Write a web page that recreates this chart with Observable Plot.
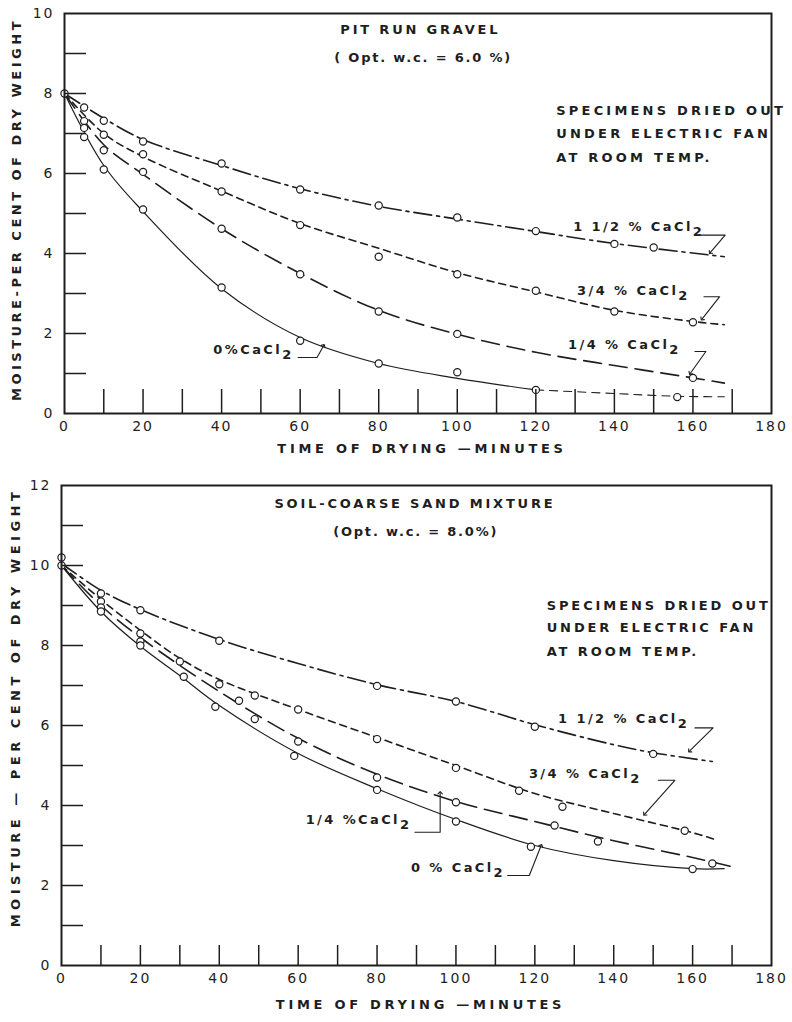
<!DOCTYPE html>
<html><head><meta charset="utf-8">
<script src="https://cdn.jsdelivr.net/npm/d3@7"></script>
<script src="https://cdn.jsdelivr.net/npm/@observablehq/plot@0.6"></script>
<style>
body{margin:0;background:#fff;}
#wrap{width:792px;}
#wrap svg{display:block;}
</style></head><body><div id="wrap"></div>
<script>
// ---------------- DATA ----------------
const xLabelTicks = [0, 20, 40, 60, 80, 100, 120, 140, 160, 180];
const xMinorTicks = [10, 20, 30, 40, 50, 60, 70, 80, 90, 100, 110, 120, 130, 140, 150, 160, 170];
const gravelYLabels = [0, 2, 4, 6, 8, 10];
const gravelYTicks = [1, 2, 3, 4, 5, 6, 7, 8, 9];
const sandYLabels = [0, 2, 4, 6, 8, 10, 12];
const sandYTicks = [1, 2, 3, 4, 5, 6, 7, 8, 9, 10, 11];
const seriesKeys = ["1 1/2 %", "3/4 %", "1/4 %", "0 %"];

// Pit run gravel: fitted curves [minutes, moisture %] and observed points
const gravelLine15 = [[0,8],[10,7.38],[20,6.85],[40,6.2],[60,5.62],[80,5.18],[100,4.86],[120,4.55],[140,4.25],[168,3.92]];
const gravelPts15  = [[0,8],[5,7.65],[10,7.32],[20,6.8],[40,6.25],[60,5.6],[80,5.2],[100,4.9],[120,4.56],[140,4.24],[150,4.15]];
const gravelLine34 = [[0,8],[10,7.0],[20,6.42],[40,5.56],[60,4.75],[80,4.13],[100,3.52],[120,3.04],[140,2.58],[160,2.3],[168,2.22]];
const gravelPts34  = [[5,7.31],[10,6.97],[20,6.48],[40,5.55],[60,4.71],[80,3.92],[100,3.48],[120,3.07],[140,2.55],[160,2.28]];
const gravelLine14 = [[0,8],[10,6.72],[20,5.98],[40,4.62],[60,3.5],[80,2.58],[100,1.98],[120,1.53],[140,1.2],[160,0.89],[168,0.76]];
const gravelPts14  = [[5,7.14],[10,6.58],[20,6.04],[40,4.62],[60,3.48],[80,2.55],[100,1.99],[160,0.89]];
const gravelLine0  = [[0,8],[10,6.2],[20,5.05],[40,3.12],[60,1.9],[80,1.25],[100,0.88],[120,0.59]];
const gravelLine0b = [[120,0.59],[140,0.5],[156,0.43],[168,0.42]];
const gravelPts0   = [[5,6.91],[10,6.1],[20,5.1],[40,3.15],[60,1.82],[80,1.25],[100,1.03],[120,0.59],[156,0.41]];

// Soil-coarse sand mixture
const sandLine15 = [[0,10.05],[10,9.38],[20,8.9],[40,8.15],[60,7.55],[80,7.02],[100,6.6],[120,6.02],[140,5.52],[150,5.32],[165,5.1]];
const sandPts15  = [[0,10.2],[10,9.3],[20,8.88],[40,8.12],[80,6.99],[100,6.6],[120,5.97],[150,5.29]];
const sandLine34 = [[0,10.0],[10,9.15],[20,8.38],[30,7.68],[40,7.15],[60,6.4],[80,5.7],[100,5.0],[120,4.3],[140,3.8],[160,3.32],[166,3.14]];
const sandPts34  = [[10,9.1],[20,8.3],[30,7.6],[40,7.03],[49,6.75],[60,6.4],[80,5.66],[100,4.94],[116,4.37],[127,3.97],[158,3.37]];
const sandLine14 = [[0,10.0],[10,9.0],[20,8.2],[40,6.85],[60,5.68],[80,4.78],[100,4.1],[120,3.6],[140,3.12],[160,2.7],[170,2.47]];
const sandPts14  = [[10,8.95],[20,8.1],[45,6.62],[49,6.16],[60,5.6],[80,4.7],[100,4.08],[125,3.5],[136,3.1],[165,2.55]];
const sandLine0  = [[0,10.0],[10,8.85],[20,7.98],[30,7.25],[40,6.5],[60,5.3],[80,4.42],[100,3.65],[120,3.0],[140,2.62],[160,2.42],[168,2.42]];
const sandPts0   = [[0,10.0],[10,8.85],[20,8.0],[31,7.22],[39,6.47],[59,5.24],[80,4.39],[100,3.6],[119,2.97],[160,2.41]];

// Texts
const xTitle = "TIME OF DRYING —MINUTES";
const gravelYTitle = "MOISTURE-PER CENT OF DRY WEIGHT";
const sandYTitle = "MOISTURE — PER CENT OF DRY WEIGHT";
const gravelTitles = [{t:90.6, v:9.58, s:"PIT RUN GRAVEL"}, {t:91.3, v:8.88, s:"( Opt. w.c. = 6.0 %)"}];
const sandTitles = [{t:89.6, v:11.55, s:"SOIL-COARSE SAND MIXTURE"}, {t:89.8, v:10.83, s:"(Opt. w.c. = 8.0%)"}];
const noteLines = ["SPECIMENS DRIED OUT", "UNDER ELECTRIC FAN", "AT ROOM TEMP."];
const gravelNotePos = [{t:125.2, v:7.56}, {t:125.2, v:6.98}, {t:125.2, v:6.38}];
const sandNotePos = [{t:123.0, v:9.0}, {t:123.0, v:8.43}, {t:123.0, v:7.83}];
const gravelSeriesLabels = [
  {t:129.5, v:4.66, s:"1 1/2 % CaCl₂"}, {t:130.5, v:3.06, s:"3/4 % CaCl₂"},
  {t:128.2, v:1.72, s:"1/4 % CaCl₂"}, {t:37.9, v:1.6, s:"0%CaCl₂"}];
const sandSeriesLabels = [
  {t:125.9, v:6.17, s:"1 1/2 % CaCl₂"}, {t:118.5, v:4.8, s:"3/4 % CaCl₂"},
  {t:61.9, v:3.65, s:"1/4 %CaCl₂"}, {t:88.6, v:2.45, s:"0 % CaCl₂"}];
const gravelLeaders = [
  [[161.5,4.46],[168.2,4.46],[164.4,4.02]],
  [[162.8,2.92],[166.8,2.92],[162.3,2.36]],
  [[160.5,1.55],[163.3,1.55],[159.3,1.0]],
  [[59.5,1.4],[64.3,1.4],[66,1.7]]];
const sandLeaders = [
  [[160.6,5.94],[165.2,5.94],[159.2,5.36]],
  [[151.3,4.63],[155.5,4.63],[147.8,3.78]],
  [[89.6,3.33],[96,3.33],[96,4.32]],
  [[113.1,2.25],[118.6,2.25],[121.6,3.0]]];

// ---------------- STYLE ----------------
const ink = "#1e1e1e";
const font = "DejaVu Sans, Verdana, sans-serif";
const dash = {"1 1/2 %": "18,5,3,5", "3/4 %": "7,5", "1/4 %": "18,8", "0 %": null};
const lw = {"1 1/2 %": 1.6, "3/4 %": 1.6, "1/4 %": 1.6, "0 %": 1.2};

const X = d => d[0], Y = d => d[1];

function spaceTexts(svg, strings, ls) {
  d3.select(svg).selectAll("text")
    .filter(function () { return strings.includes(this.textContent); })
    .attr("letter-spacing", ls);
}

function chart(cfg) {
  const W = 792;
  const innerW = W - cfg.ml - cfg.mr, innerH = cfg.height - cfg.mt - cfg.mb;
  const marks = [];
  cfg.lines.forEach(([key, data]) => {
    marks.push(Plot.line(data, {x: X, y: Y, curve: "catmull-rom", stroke: ink,
      strokeWidth: lw[key], strokeDasharray: dash[key] || undefined}));
  });
  if (cfg.extra) marks.push(Plot.line(cfg.extra, {x: X, y: Y, curve: "catmull-rom", stroke: ink, strokeWidth: 1.1, strokeDasharray: "8,6"}));
  cfg.points.forEach(pts => marks.push(Plot.dot(pts, {x: X, y: Y, r: 3.6, stroke: ink, fill: "white", strokeWidth: 1.2})));
  cfg.leaders.forEach(L => marks.push(Plot.line(L, {x: X, y: Y, stroke: ink, strokeWidth: 1.1, markerEnd: "arrow"})));
  marks.push(
    Plot.tickY(cfg.yTicks, {y: d => d, stroke: ink, strokeWidth: 1.5, insetRight: innerW - 22}),
    Plot.tickX(xMinorTicks, {x: d => d, stroke: ink, strokeWidth: 1.5, insetTop: innerH - cfg.xTickLen}),
    Plot.frame({stroke: ink, strokeWidth: 2}),
    Plot.axisX({ticks: xLabelTicks, tickSize: 0, tickPadding: 8, fontSize: 14, label: null, fill: ink}),
    Plot.axisY({ticks: cfg.yLabels, tickSize: 0, tickPadding: 10, fontSize: 14, label: null, fill: ink}),
    Plot.text([xTitle], {frameAnchor: "bottom", textAnchor: "middle", text: d => d, dy: cfg.xTitleDy, dx: 4, fontSize: 13, fontWeight: "bold", fill: ink}),
    Plot.text([cfg.yTitle], {frameAnchor: "left", textAnchor: "middle", lineAnchor: "middle", text: d => d, rotate: -90, dx: cfg.yTitleDx, dy: cfg.yTitleDy, fontSize: 13, fontWeight: "bold", fill: ink}),
    Plot.text(cfg.titles, {x: "t", y: "v", text: "s", fontSize: 13, fontWeight: "bold", fill: ink}),
    Plot.text(cfg.notes, {x: "t", y: "v", text: "s", textAnchor: "start", fontSize: 13, fontWeight: "bold", fill: ink}),
    Plot.text(cfg.seriesLabels, {x: "t", y: "v", text: "s", textAnchor: "start", fontSize: 13, fontWeight: "bold", fill: ink})
  );
  const svg = Plot.plot({
    width: W, height: cfg.height,
    marginTop: cfg.mt, marginBottom: cfg.mb, marginLeft: cfg.ml, marginRight: cfg.mr,
    x: {domain: [0, 180]}, y: {domain: [0, cfg.yMax]},
    style: {fontFamily: font, background: "white", color: ink},
    marks
  });
  spaceTexts(svg, [cfg.titles[0].s], "2.8px");
  spaceTexts(svg, [cfg.titles[1].s], "1.8px");
  spaceTexts(svg, noteLines, cfg.noteLS);
  spaceTexts(svg, cfg.seriesLabels.map(d => d.s), "2.4px");
  spaceTexts(svg, [xTitle], "3.7px");
  spaceTexts(svg, [cfg.yTitle], cfg.yTitleLS);
  d3.select(svg).selectAll('g[aria-label="x-axis tick label"] text, g[aria-label="y-axis tick label"] text').attr("letter-spacing", "2px");
  // subscript 2 of CaCl2 drawn as a lowered full-size digit
  d3.select(svg).selectAll("text")
    .filter(function () { return this.textContent.endsWith("₂"); })
    .each(function () {
      const t = this.textContent;
      this.textContent = t.slice(0, -1);
      d3.select(this).append("tspan").attr("dy", "0.4em").text("2");
    });
  return svg;
}

const mkNotes = pos => pos.map((p, i) => ({t: p.t, v: p.v, s: noteLines[i]}));

const gravelChart = chart({
  height: 470, mt: 13, mb: 57, ml: 64, mr: 21, yMax: 10,
  yLabels: gravelYLabels, yTicks: gravelYTicks, xTickLen: 24,
  lines: [["1 1/2 %", gravelLine15], ["3/4 %", gravelLine34], ["1/4 %", gravelLine14], ["0 %", gravelLine0]],
  extra: gravelLine0b,
  points: [gravelPts15, gravelPts34, gravelPts14, gravelPts0],
  leaders: gravelLeaders,
  titles: gravelTitles, notes: mkNotes(gravelNotePos), seriesLabels: gravelSeriesLabels,
  yTitle: gravelYTitle, yTitleDx: -48, yTitleDy: -4, yTitleLS: "3.5px", xTitleDy: 39, noteLS: "3.2px"
});
const sandChart = chart({
  height: 552, mt: 15, mb: 57, ml: 61, mr: 21, yMax: 12,
  yLabels: sandYLabels, yTicks: sandYTicks, xTickLen: 20,
  lines: [["1 1/2 %", sandLine15], ["3/4 %", sandLine34], ["1/4 %", sandLine14], ["0 %", sandLine0]],
  points: [sandPts15, sandPts34, sandPts14, sandPts0],
  leaders: sandLeaders,
  titles: sandTitles, notes: mkNotes(sandNotePos), seriesLabels: sandSeriesLabels,
  yTitle: sandYTitle, yTitleDx: -46, yTitleDy: -18, yTitleLS: "4.5px", xTitleDy: 43, noteLS: "2.9px"
});
document.getElementById("wrap").append(gravelChart, sandChart);
</script></body></html>
